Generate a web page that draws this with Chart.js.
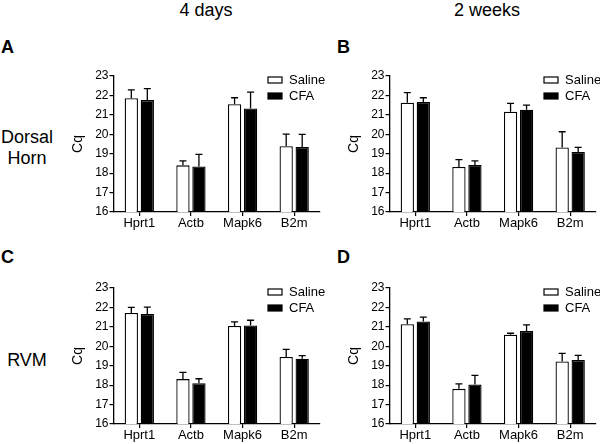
<!DOCTYPE html>
<html>
<head>
<meta charset="utf-8">
<script src="https://cdn.jsdelivr.net/npm/chart.js@4.4.1/dist/chart.umd.min.js"></script>
<style>
  body { margin: 0; width: 600px; height: 444px; background: #fff; overflow: hidden; position: relative;
         font-family: 'Liberation Sans', Arial, sans-serif; color: #000; }
  .txt { position: absolute; font-size: 18px; line-height: 18px; white-space: nowrap; }
  .letter { font-weight: bold; }
  .panel { position: absolute; width: 270px; height: 170px; }
</style>
</head>
<body>
<div class="txt" style="left:156px;top:1px;width:100px;text-align:center">4 days</div>
<div class="txt" style="left:437px;top:1px;width:100px;text-align:center">2 weeks</div>
<div class="txt letter" style="left:1px;top:38px">A</div>
<div class="txt letter" style="left:337px;top:38px">B</div>
<div class="txt letter" style="left:1px;top:248px">C</div>
<div class="txt letter" style="left:337px;top:248px">D</div>
<div class="txt" style="left:0;top:128px;width:54px;text-align:center">Dorsal</div>
<div class="txt" style="left:0;top:149px;width:54px;text-align:center">Horn</div>
<div class="txt" style="left:0;top:351px;width:54px;text-align:center">RVM</div>

<div class="panel" style="left:60px;top:66px"><canvas id="chartA" width="270" height="170"></canvas></div>
<div class="panel" style="left:336px;top:66px"><canvas id="chartB" width="270" height="170"></canvas></div>
<div class="panel" style="left:60px;top:278px"><canvas id="chartC" width="270" height="170"></canvas></div>
<div class="panel" style="left:336px;top:278px"><canvas id="chartD" width="270" height="170"></canvas></div>

<script>
// ข้อมูล (ค่า Cq อ่านจากภาพ)
const genes = ['Hprt1', 'Actb', 'Mapk6', 'B2m'];
const yTicks = [16, 17, 18, 19, 20, 21, 22, 23];

// A: Dorsal Horn, 4 days
const salineA = [21.86, 18.40, 21.55, 19.39];
const salineErrA = [0.43, 0.23, 0.33, 0.62];
const cfaA = [21.76, 18.34, 21.33, 19.35];
const cfaErrA = [0.59, 0.63, 0.84, 0.65];

// B: Dorsal Horn, 2 weeks
const salineB = [21.62, 18.32, 21.16, 19.32];
const salineErrB = [0.52, 0.38, 0.43, 0.81];
const cfaB = [21.66, 18.42, 21.26, 19.09];
const cfaErrB = [0.22, 0.21, 0.24, 0.24];

// C: RVM, 4 days
const salineC = [21.71, 18.31, 21.05, 19.45];
const salineErrC = [0.29, 0.35, 0.21, 0.39];
const cfaC = [21.66, 18.10, 21.07, 19.36];
const cfaErrC = [0.36, 0.23, 0.27, 0.16];

// D: RVM, 2 weeks
const salineD = [21.14, 17.81, 20.59, 19.22];
const salineErrD = [0.27, 0.26, 0.08, 0.42];
const cfaD = [21.28, 18.03, 20.79, 19.29];
const cfaErrD = [0.22, 0.47, 0.31, 0.24];

Chart.defaults.font.family = "'Liberation Sans', Arial, sans-serif";
Chart.defaults.color = '#000';

// error bar ด้านบนอย่างเดียว
const errorBars = {
    id: 'errorBars',
    afterDatasetsDraw(chart) {
        const ctx = chart.ctx;
        const y = chart.scales.y;
        ctx.save();
        ctx.strokeStyle = '#000';
        ctx.lineWidth = 1.3;
        chart.data.datasets.forEach((ds, i) => {
            const meta = chart.getDatasetMeta(i);
            meta.data.forEach((bar, j) => {
                const top = y.getPixelForValue(ds.data[j] + ds.errors[j]);
                ctx.beginPath();
                ctx.moveTo(bar.x, bar.y);
                ctx.lineTo(bar.x, top);
                ctx.moveTo(bar.x - 3.5, top);
                ctx.lineTo(bar.x + 3.5, top);
                ctx.stroke();
            });
        });
        ctx.restore();
    }
};

// legend มุมขวาบน
const boxLegend = {
    id: 'boxLegend',
    afterDraw(chart) {
        const ctx = chart.ctx;
        const area = chart.chartArea;
        ctx.save();
        ctx.font = "13px 'Liberation Sans', Arial, sans-serif";
        ctx.textBaseline = 'middle';
        chart.data.datasets.forEach((ds, i) => {
            const x = area.right - 52;
            const y = area.top + 1 + i * 16;
            ctx.fillStyle = ds.backgroundColor;
            ctx.fillRect(x, y, 14, 6);
            ctx.strokeStyle = '#000';
            ctx.lineWidth = 1.2;
            ctx.strokeRect(x, y, 14, 6);
            ctx.fillStyle = '#000';
            ctx.fillText(ds.label, x + 21, y + 3.5);
        });
        ctx.restore();
    }
};

function makePanel(id, saline, salineErr, cfa, cfaErr) {
    const ctx = document.getElementById(id).getContext('2d');
    return new Chart(ctx, {
        type: 'bar',
        data: {
            labels: genes,
            datasets: [
                { label: 'Saline', data: saline, errors: salineErr, backgroundColor: '#fff', borderColor: '#000', borderWidth: 1.3 },
                { label: 'CFA', data: cfa, errors: cfaErr, backgroundColor: '#000', borderColor: '#000', borderWidth: 1.3 }
            ]
        },
        options: {
            responsive: false,
            animation: false,
            categoryPercentage: 0.62,
            barPercentage: 0.83,
            layout: { padding: { top: 10, right: 10, left: 0, bottom: 0 } },
            plugins: { legend: { display: false }, tooltip: { enabled: false } },
            scales: {
                x: {
                    grid: { display: true, drawOnChartArea: false, offset: false, tickLength: 4, color: '#000', lineWidth: 1.2 },
                    border: { display: true, color: '#000', width: 1.3 },
                    ticks: { font: { size: 13 }, padding: 0, color: '#000' },
                    afterFit(scale) { scale.height = 24; }
                },
                y: {
                    min: 16,
                    max: 23,
                    afterBuildTicks(scale) { scale.ticks = yTicks.map(v => ({ value: v })); },
                    grid: { display: true, drawOnChartArea: false, tickLength: 4, color: '#000', lineWidth: 1.2 },
                    border: { display: true, color: '#000', width: 1.3 },
                    ticks: { font: { size: 12 }, padding: 1, color: '#000' },
                    title: { display: true, text: 'Cq', font: { size: 14 }, padding: { top: 10, bottom: 0 }, color: '#000' },
                    afterFit(scale) { scale.width = 53.5; }
                }
            }
        },
        plugins: [errorBars, boxLegend]
    });
}

makePanel('chartA', salineA, salineErrA, cfaA, cfaErrA);
makePanel('chartB', salineB, salineErrB, cfaB, cfaErrB);
makePanel('chartC', salineC, salineErrC, cfaC, cfaErrC);
makePanel('chartD', salineD, salineErrD, cfaD, cfaErrD);
</script>
</body>
</html>
